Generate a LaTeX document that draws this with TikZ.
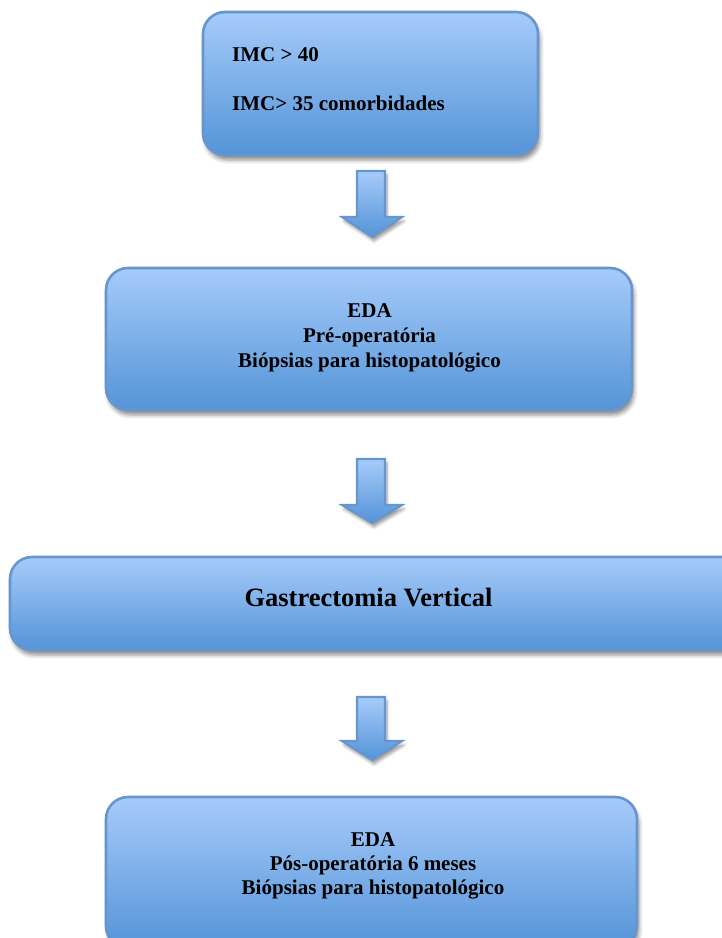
\documentclass[tikz,border=0pt]{standalone}
\usepackage{fontspec}
\setmainfont{Liberation Serif}
\usetikzlibrary{shadows,shadows.blur}
\definecolor{boxtop}{RGB}{166,203,250}
\definecolor{boxbot}{RGB}{84,148,216}
\definecolor{boxline}{RGB}{102,150,205}
\tikzset{
  boxshape/.style={rectangle, rounded corners=22pt, draw=boxline, line width=2.6pt,
    top color=boxtop, bottom color=boxbot, inner sep=0pt,
    blur shadow={shadow xshift=2pt, shadow yshift=-5pt, shadow blur radius=4pt, shadow opacity=45}},
  blockarrow/.style={draw=boxline, line width=2.2pt, line join=miter,
    top color=boxtop, bottom color=boxbot,
    blur shadow={shadow xshift=2pt, shadow yshift=-4pt, shadow blur radius=3pt, shadow opacity=40}},
  txt/.style={anchor=base, inner sep=0pt, font=\fontsize{21}{25}\selectfont\bfseries},
  bigtxt/.style={anchor=base, inner sep=0pt, font=\fontsize{26.5}{30}\selectfont\bfseries}
}
\begin{document}
\begin{tikzpicture}[x=1pt,y=-1pt]
\useasboundingbox (0,0) rectangle (722,938);
% boxes
\node[boxshape, minimum width=335pt, minimum height=143pt] (b1) at (370.5,83.5) {};
\node[boxshape, minimum width=526pt, minimum height=142pt] (b2) at (369,339) {};
\node[boxshape, minimum width=740pt, minimum height=93pt] (b3) at (380,603.5) {};
\node[boxshape, minimum width=531pt, minimum height=151pt] (b4) at (371.5,872.5) {};
% arrows
\path[blockarrow] (357,171) -- (385,171) -- (385,217) -- (402,217) -- (372,237) -- (342,217) -- (357,217) -- cycle;
\path[blockarrow] (357,459) -- (385,459) -- (385,505) -- (402,505) -- (372,523) -- (342,505) -- (357,505) -- cycle;
\path[blockarrow] (357,697) -- (385,697) -- (385,741) -- (402,741) -- (372,760) -- (342,741) -- (357,741) -- cycle;
% texts
\node[txt, anchor=base west] (t1a) at (232,61) {IMC > 40};
\node[txt, anchor=base west] (t1b) at (232,110) {IMC> 35 comorbidades};
\node[txt] (t2a) at (369.5,317) {EDA};
\node[txt] (t2b) at (369.5,342) {Pré-operatória};
\node[txt] (t2c) at (369.5,367) {Biópsias para histopatológico};
\node[bigtxt] (t3) at (368.5,606) {Gastrectomia Vertical};
\node[txt] (t4a) at (373,846) {EDA};
\node[txt] (t4b) at (373,870) {Pós-operatória 6 meses};
\node[txt] (t4c) at (373,894) {Biópsias para histopatológico};
\end{tikzpicture}
\end{document}
